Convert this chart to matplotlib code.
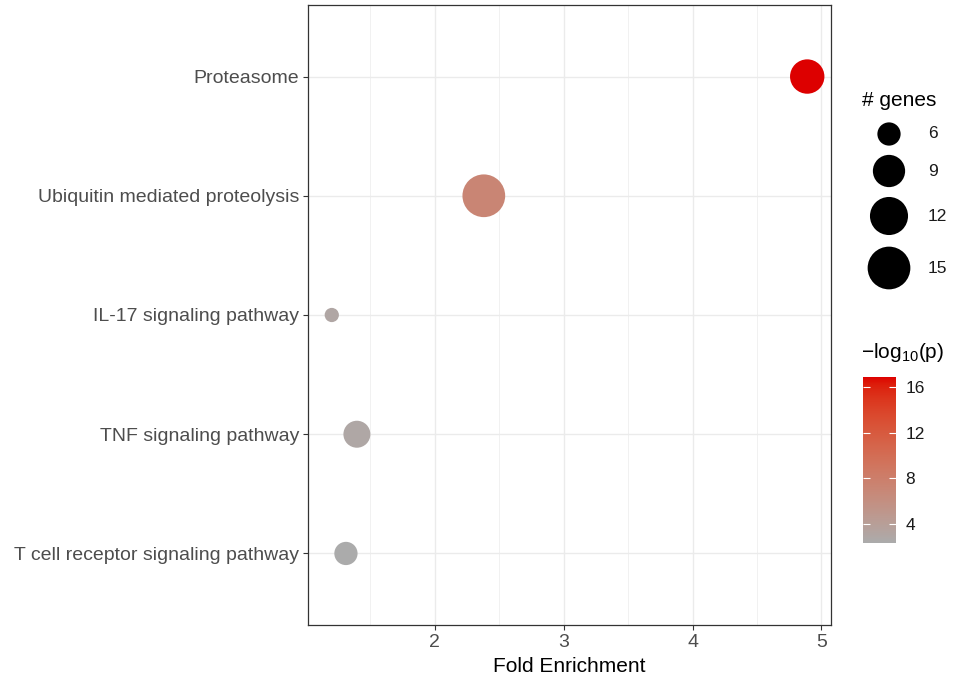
import matplotlib
matplotlib.use("Agg")
import matplotlib.pyplot as plt
import numpy as np
from matplotlib.colors import ListedColormap, Normalize

plt.rcParams['font.family'] = ['Liberation Sans', 'DejaVu Sans']
plt.rcParams['mathtext.fontset'] = 'custom'
plt.rcParams['mathtext.rm'] = 'Liberation Sans'
plt.rcParams['mathtext.it'] = 'Liberation Sans:italic'

# KEGG enrichment results

pathways = ["T cell receptor signaling pathway", "TNF signaling pathway",
            "IL-17 signaling pathway", "Ubiquitin mediated proteolysis",
            "Proteasome"]
fold_enrichment = [1.31, 1.395, 1.20, 2.38, 4.89]
gene_count = [6, 7, 5, 15, 10]
neg_log_p = [2.34, 2.9, 3.0, 7.2, 16.88]

size_breaks = [6, 9, 12, 15]
color_breaks = [4, 8, 12, 16]

low_col = np.array([0xAB, 0xAB, 0xAB]) / 255
high_col = np.array([0xDD, 0x00, 0x00]) / 255


# Colour gradient interpolated in CIELAB

WHITE = np.array([0.95047, 1.0, 1.08883])
M = np.array([[0.4124, 0.3576, 0.1805],
              [0.2126, 0.7152, 0.0722],
              [0.0193, 0.1192, 0.9505]])


def to_lab(rgb):
    c = np.where(rgb <= 0.04045, rgb / 12.92, ((rgb + 0.055) / 1.055) ** 2.4)
    t = (M @ c) / WHITE
    f = np.where(t > 0.008856, np.cbrt(t), 7.787 * t + 16 / 116)
    return np.array([116 * f[1] - 16, 500 * (f[0] - f[1]), 200 * (f[1] - f[2])])


def from_lab(lab):
    fy = (lab[0] + 16) / 116
    f = np.array([fy + lab[1] / 500, fy, fy - lab[2] / 200])
    t = np.where(f ** 3 > 0.008856, f ** 3, (f - 16 / 116) / 7.787) * WHITE
    c = np.linalg.solve(M, t)
    rgb = np.where(c <= 0.0031308, 12.92 * c, 1.055 * np.clip(c, 0, None) ** (1 / 2.4) - 0.055)
    return np.clip(rgb, 0, 1)


lab_lo, lab_hi = to_lab(low_col), to_lab(high_col)
ramp = [from_lab(lab_lo + (lab_hi - lab_lo) * t) for t in np.linspace(0, 1, 256)]
cmap = ListedColormap(ramp)
norm = Normalize(min(neg_log_p), max(neg_log_p))


# Point diameter in pixels (area scale, range 2..6)

def diameter(n):
    lo, hi = min(gene_count), max(gene_count)
    frac = np.clip((np.asarray(n, float) - lo) / (hi - lo), 0, None)
    return 7.12 * (2 + 4 * np.sqrt(frac))


def area(n):
    return (diameter(n) * 0.72) ** 2


W, H = 954, 682
fig = plt.figure(figsize=(W / 100, H / 100), dpi=100)

ax = fig.add_axes([308 / W, 1 - 625 / H, 523 / W, 620 / H])
y = np.arange(len(pathways))
ax.scatter(fold_enrichment, y, s=area(gene_count), c=neg_log_p, cmap=cmap,
           norm=norm, linewidths=0, zorder=3)

r = max(fold_enrichment) - min(fold_enrichment)
ax.set_xlim(min(fold_enrichment) - 0.05 * r, max(fold_enrichment) + 0.05 * r)
ax.set_ylim(-0.6, len(pathways) - 0.4)
ax.set_xticks([2, 3, 4, 5])
ax.set_xticks([1.5, 2.5, 3.5, 4.5], minor=True)
ax.set_yticks(y)
ax.set_yticklabels(pathways)
ax.grid(which='major', color='#EBEBEB', linewidth=1.0, zorder=0)
ax.grid(which='minor', axis='x', color='#EBEBEB', linewidth=0.5, zorder=0)
ax.set_axisbelow(True)
ax.tick_params(which='major', length=3.5, width=0.8, color='#333333',
               labelsize=14, labelcolor='#4D4D4D', pad=3)
ax.tick_params(which='minor', length=0)
for sp in ax.spines.values():
    sp.set_color('#333333')
    sp.set_linewidth(0.9)
ax.set_xlabel("Fold Enrichment", fontsize=15, color='black', labelpad=4)

# Size legend

fig.text(862 / W, 1 - 100 / H, "# genes", fontsize=15, va='center', ha='left')
lax = fig.add_axes([860 / W, 1 - 290 / H, 94 / W, 175 / H])
lax.set_xlim(0, 94)
lax.set_ylim(290, 115)
lax.axis('off')
key_y = [134, 171, 216, 268]
lax.scatter([29] * 4, key_y, s=area(size_breaks), color='black', linewidths=0)
for v, ky in zip(size_breaks, key_y):
    lax.text(68, ky, str(v), fontsize=12.5, va='center', ha='left', color='#1A1A1A')

# Colour bar

fig.text(861 / W, 1 - 352 / H, r'$-\mathrm{log}_{10}(\mathrm{p})$', fontsize=15,
         va='center', ha='left')
cax = fig.add_axes([863 / W, 1 - 543 / H, 33 / W, 166 / H])
sm = plt.cm.ScalarMappable(norm=norm, cmap=cmap)
cb = fig.colorbar(sm, cax=cax, ticks=color_breaks)
cb.outline.set_visible(False)
cax.tick_params(direction='in', color='white', length=5, width=0.8,
                left=True, right=True, labelsize=12.5, labelcolor='#1A1A1A', pad=7)

fig.savefig("out.png", dpi=100)
